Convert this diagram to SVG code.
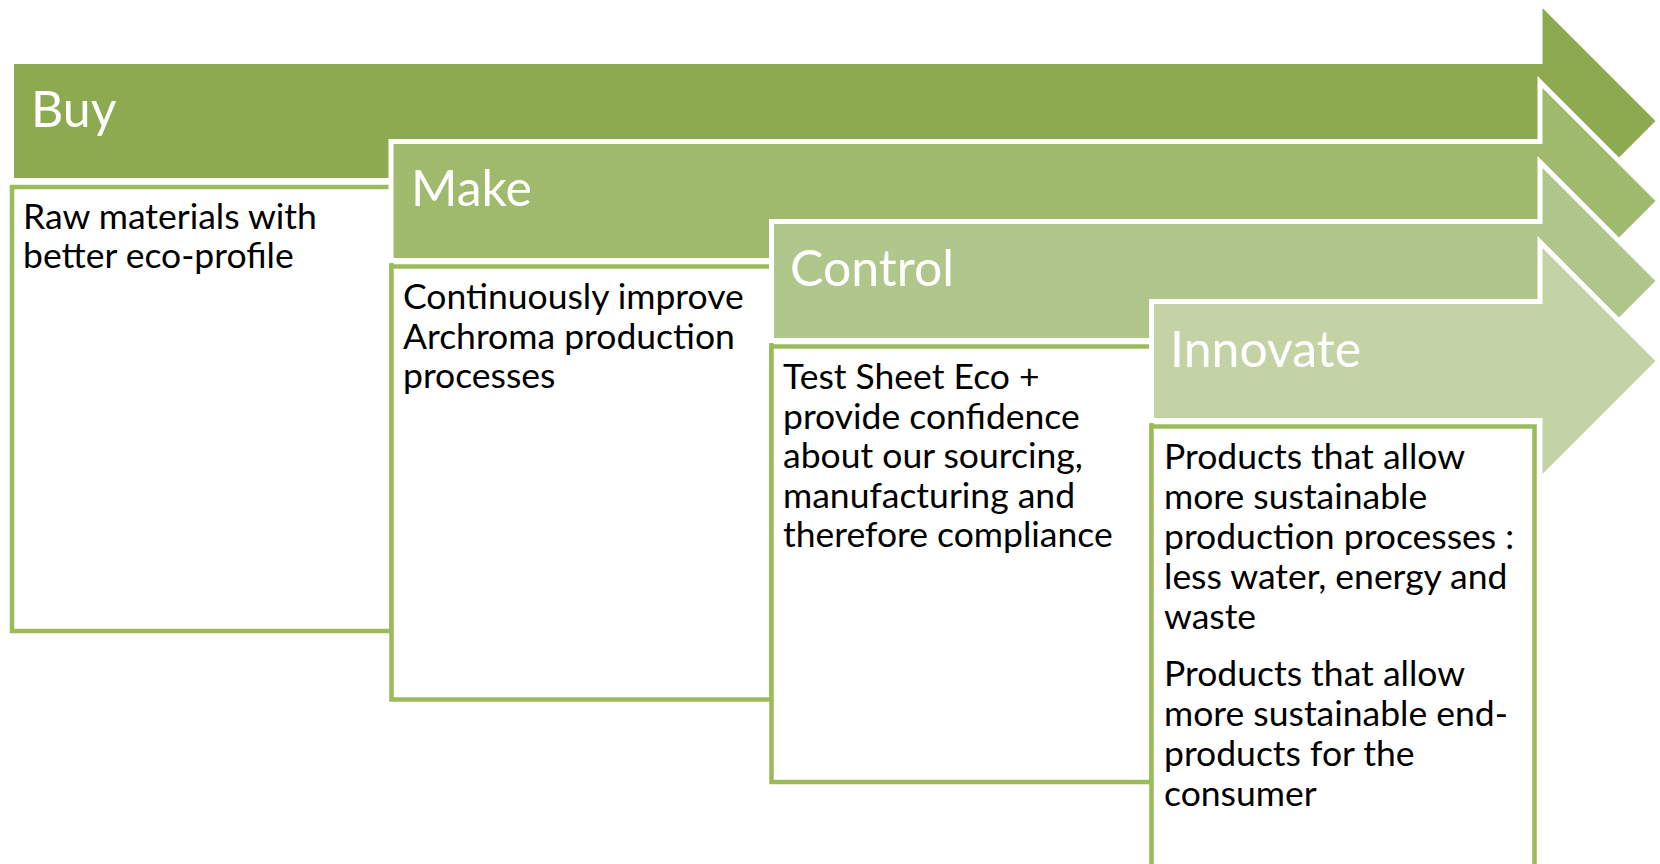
<svg xmlns="http://www.w3.org/2000/svg" width="1660" height="864" viewBox="0 0 1660 864">
<style>
.arrow{stroke:#FFFFFF;stroke-width:5;stroke-linejoin:miter}
.box{fill:#FFFFFF;stroke:#9BBB59;stroke-width:4.5}
.head{font-family:Lato,"Liberation Sans",sans-serif;font-size:50px;fill:#FFFFFF}
.body{font-family:Lato,"Liberation Sans",sans-serif;font-size:35.5px;fill:#000000}
</style>
<rect x="0" y="0" width="1660" height="864" fill="#FFFFFF"/>
<g id="connectors"></g>
<g id="buy">
<path class="arrow" fill="#8EAA51" d="M11.5,61.5 H1540 V2 L1659,121 L1540,240 V180.5 H11.5 Z"/>
<text class="head" x="31" y="127">Buy</text>
<rect class="box" x="12" y="187" width="379.5" height="444"/>
<text class="body"><tspan x="23" y="229">Raw materials with</tspan><tspan x="23" y="268">better eco-profile</tspan></text>
</g>
<g id="make">
<path class="arrow" fill="#9FBA6C" d="M391,141.5 H1540 V82 L1659,201 L1540,320 V260.5 H391 Z"/>
<text class="head" x="411" y="206">Make</text>
<rect class="box" x="391.5" y="266.5" width="380" height="433"/>
<text class="body"><tspan x="403" y="309">Continuously improve</tspan><tspan x="403" y="348.5">Archroma production</tspan><tspan x="403" y="388">processes</tspan></text>
</g>
<g id="control">
<path class="arrow" fill="#B0C68A" d="M771.5,221.5 H1540 V162 L1659,281 L1540,400 V340.5 H771.5 Z"/>
<text class="head" x="790" y="286">Control</text>
<rect class="box" x="771.5" y="346.5" width="380" height="435.5"/>
<text class="body"><tspan x="783" y="389">Test Sheet Eco +</tspan><tspan x="783" y="428.5">provide confidence</tspan><tspan x="783" y="468">about our sourcing,</tspan><tspan x="783" y="507.5">manufacturing and</tspan><tspan x="783" y="547">therefore compliance</tspan></text>
</g>
<g id="innovate">
<path class="arrow" fill="#C3D3A6" d="M1151.5,301.5 H1540 V242 L1659,361 L1540,480 V420.5 H1151.5 Z"/>
<text class="head" x="1170" y="367">Innovate</text>
<rect class="box" x="1151.5" y="426.5" width="383" height="460"/>
<text class="body"><tspan x="1164" y="469">Products that allow</tspan><tspan x="1164" y="509">more sustainable</tspan><tspan x="1164" y="549">production processes :</tspan><tspan x="1164" y="589">less water, energy and</tspan><tspan x="1164" y="629">waste</tspan><tspan x="1164" y="686">Products that allow</tspan><tspan x="1164" y="726">more sustainable end-</tspan><tspan x="1164" y="766">products for the</tspan><tspan x="1164" y="806">consumer</tspan></text>
</g>
</svg>
